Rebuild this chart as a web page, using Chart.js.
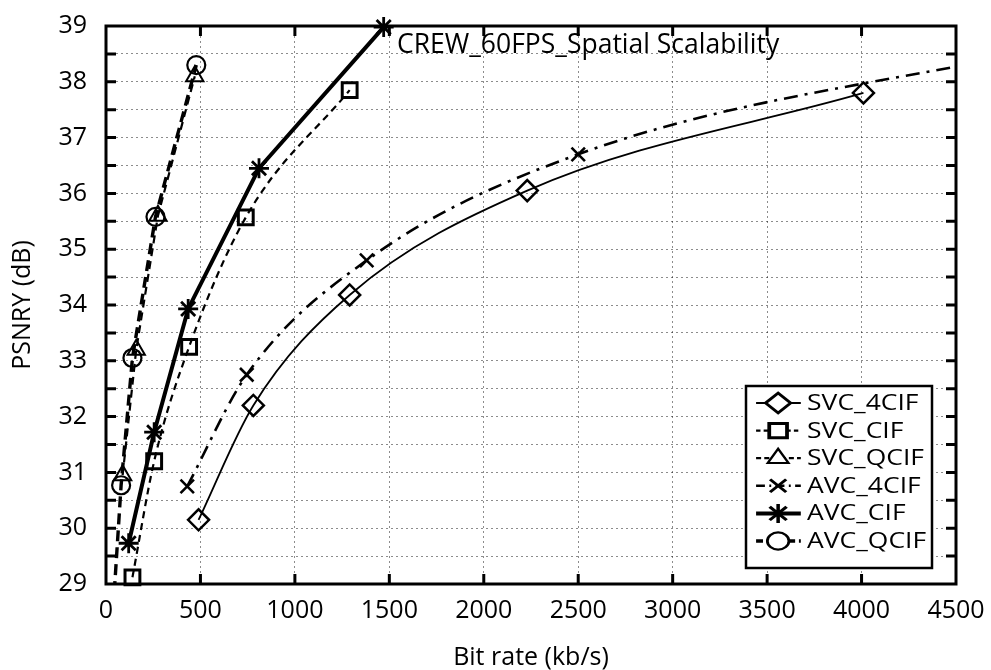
<!DOCTYPE html>
<html><head><meta charset="utf-8">
<script src="https://cdn.jsdelivr.net/npm/chart.js@4/dist/chart.umd.min.js"></script>
<style>html,body{margin:0;padding:0;background:#fff}#wrap{width:991px;height:670px;position:relative}</style>
</head><body><div id="wrap"><canvas id="c"></canvas></div>
<script>
const FONT = "'Open Sans', 'DejaVu Sans', sans-serif";
const chartTitle = 'CREW_60FPS_Spatial Scalability';
const xAxisTitle = 'Bit rate (kb/s)';
const yAxisTitle = 'PSNRY (dB)';
const seriesNames = ['SVC_4CIF', 'SVC_CIF', 'SVC_QCIF', 'AVC_4CIF', 'AVC_CIF', 'AVC_QCIF'];

const svc4cifX = [490, 780, 1290, 2230, 4010];
const svc4cifY = [30.15, 32.2, 34.18, 36.05, 37.8];
const svcCifX = [140, 255, 440, 740, 1290];
const svcCifY = [29.12, 31.2, 33.25, 35.57, 37.85];
const svcQcifX = [88, 160, 275, 470];
const svcQcifY = [30.95, 33.2, 35.6, 38.1];
const avc4cifX = [430, 745, 1380, 2500, 5000];
const avc4cifY = [30.75, 32.75, 34.8, 36.7, 38.62];
const avcCifX = [120, 255, 435, 810, 1470];
const avcCifY = [29.73, 31.72, 33.93, 36.45, 38.98];
const avcQcifX = [38, 80, 140, 262, 478];
const avcQcifY = [28.55, 30.77, 33.05, 35.58, 38.3];

const xMin = 0, xMax = 4500, xStep = 500;
const yMin = 29, yMax = 39, yStep = 0.5;

function pts(xs, ys) { return xs.map((x, i) => ({ x: x, y: ys[i] })); }

const styles = [
  { data: pts(svc4cifX, svc4cifY), pointStyle: 'rectRot', pointRadius: 10.5, borderWidth: 1.8, dash: [], pbw: 2.5, tension: 'mono', clip: {left:0,right:0,top:0,bottom:0} },
  { data: pts(svcCifX, svcCifY), pointStyle: 'rect', pointRadius: 10.5, borderWidth: 2.2, dash: [7, 5], pbw: 3, tension: 'mono', clip: {left:0,right:0,top:0,bottom:14} },
  { data: pts(svcQcifX, svcQcifY), pointStyle: 'triangle', pointRadius: 10, borderWidth: 2.2, dash: [8, 5], pbw: 2, tension: 0, clip: {left:0,right:0,top:0,bottom:0} },
  { data: pts(avc4cifX, avc4cifY), pointStyle: 'crossRot', pointRadius: 9.5, borderWidth: 2.6, dash: [14, 7, 3, 7], pbw: 2.6, tension: 'mono', clip: {left:0,right:0,top:0,bottom:0} },
  { data: pts(avcCifX, avcCifY), pointStyle: 'star', pointRadius: 10, borderWidth: 4, dash: [], pbw: 2.8, tension: 0, clip: {left:0,right:0,top:16,bottom:0} },
  { data: pts(avcQcifX, avcQcifY), pointStyle: 'circle', pointRadius: 9, borderWidth: 3.4, dash: [11, 6], pbw: 2.2, tension: 0, clip: {left:0,right:0,top:0,bottom:0} }
];

const datasets = styles.map((s, i) => ({
  label: seriesNames[i],
  data: s.data,
  borderColor: '#000',
  backgroundColor: '#fff',
  borderWidth: s.borderWidth,
  borderDash: s.dash,
  pointStyle: s.pointStyle,
  pointRadius: s.pointRadius,
  pointBorderWidth: s.pbw,
  pointBackgroundColor: 'rgba(255,255,255,0)',
  pointBorderColor: '#000',
  cubicInterpolationMode: s.tension === 'mono' ? 'monotone' : 'default',
  tension: 0,
  fill: false,
  clip: s.clip
}));

const framePlugin = {
  id: 'frame',
  beforeDatasetsDraw(chart) {
    const { ctx, chartArea: a, scales } = chart;
    ctx.save();
    ctx.strokeStyle = '#000';
    ctx.lineWidth = 3;
    ctx.setLineDash([]);
    ctx.strokeRect(a.left, a.top, a.right - a.left, a.bottom - a.top);
    const tl = 10;
    ctx.beginPath();
    for (let v = yMin + yStep; v < yMax; v += yStep) {
      const y = scales.y.getPixelForValue(v);
      ctx.moveTo(a.left, y); ctx.lineTo(a.left + tl, y);
      ctx.moveTo(a.right, y); ctx.lineTo(a.right - tl, y);
    }
    for (let v = xMin + xStep; v < xMax; v += xStep) {
      const x = scales.x.getPixelForValue(v);
      ctx.moveTo(x, a.bottom); ctx.lineTo(x, a.bottom - tl);
      ctx.moveTo(x, a.top); ctx.lineTo(x, a.top + tl);
    }
    ctx.stroke();
    ctx.restore();
  },
  afterDraw(chart) {
    const { ctx, chartArea: a } = chart;
    ctx.save();
    ctx.fillStyle = '#000';
    ctx.font = '26.5px ' + FONT;
    ctx.textBaseline = 'alphabetic';
    ctx.textAlign = 'left';
    ctx.fillText(chartTitle, a.left + 291, a.top + 27);
    // legend
    const bw = 186, bh = 182;
    const bx = a.right - 24 - bw, by = a.bottom - 16 - bh;
    ctx.fillStyle = '#fff';
    ctx.fillRect(bx, by, bw, bh);
    ctx.strokeStyle = '#000';
    ctx.lineWidth = 2.5;
    ctx.setLineDash([]);
    ctx.strokeRect(bx, by, bw, bh);
    const sx = 1.26;
    const rowH = 27.6;
    chart.data.datasets.forEach((ds, i) => {
      const cy = by + 17 + i * rowH;
      ctx.save();
      ctx.translate(bx, 0);
      ctx.scale(sx, 1);
      ctx.strokeStyle = '#000';
      ctx.lineWidth = ds.borderWidth;
      ctx.setLineDash(ds.borderDash.map(d => d * 0.5));
      ctx.beginPath();
      ctx.moveTo(8, cy); ctx.lineTo(43.5, cy);
      ctx.stroke();
      ctx.setLineDash([]);
      ctx.lineWidth = ds.pointBorderWidth;
      ctx.fillStyle = '#fff';
      Chart.helpers.drawPoint(ctx, { pointStyle: ds.pointStyle, radius: ds.pointRadius * 0.95, rotation: 0, borderWidth: ds.pointBorderWidth }, 25.5, cy);
      ctx.fillStyle = '#000';
      ctx.font = '21px ' + FONT;
      ctx.textBaseline = 'middle';
      ctx.fillText(ds.label, 48.5, cy + 1);
      ctx.restore();
    });
    ctx.restore();
  }
};

new Chart(document.getElementById('c'), {
  type: 'line',
  data: { datasets: datasets },
  plugins: [framePlugin],
  options: {
    responsive: true,
    maintainAspectRatio: false,
    animation: false,
    layout: { padding: { left: 0, top: 26, right: 35, bottom: 0 } },
    plugins: { legend: { display: false }, tooltip: { enabled: false } },
    scales: {
      x: {
        type: 'linear', min: xMin, max: xMax,
        ticks: { stepSize: xStep, color: '#000', font: { family: FONT, size: 25 }, padding: 12, maxRotation: 0,
          callback: v => String(v) },
        grid: { color: 'rgba(0,0,0,0.45)', lineWidth: 1, drawTicks: false },
        border: { display: false, dash: [2, 3] },
        title: { display: true, text: xAxisTitle, color: '#000', font: { family: FONT, size: 25, lineHeight: 1.0 }, padding: { top: 0, bottom: 0 } },
        afterFit(s) { s.height = 86; s.paddingLeft = 0; s.paddingRight = 0; }
      },
      y: {
        type: 'linear', min: yMin, max: yMax,
        ticks: { stepSize: yStep, autoSkip: false, color: '#000', font: { family: FONT, size: 25 }, padding: 19,
          callback: v => (Number.isInteger(v) ? String(v) : '') },
        grid: { color: 'rgba(0,0,0,0.45)', lineWidth: 1, drawTicks: false },
        border: { display: false, dash: [2, 3] },
        title: { display: true, text: yAxisTitle, color: '#000', font: { family: FONT, size: 25 }, padding: { top: 8, bottom: 0 } },
        afterFit(s) { s.width = 106; s.paddingTop = 0; s.paddingBottom = 0; }
      }
    }
  }
});
</script>
</body></html>
